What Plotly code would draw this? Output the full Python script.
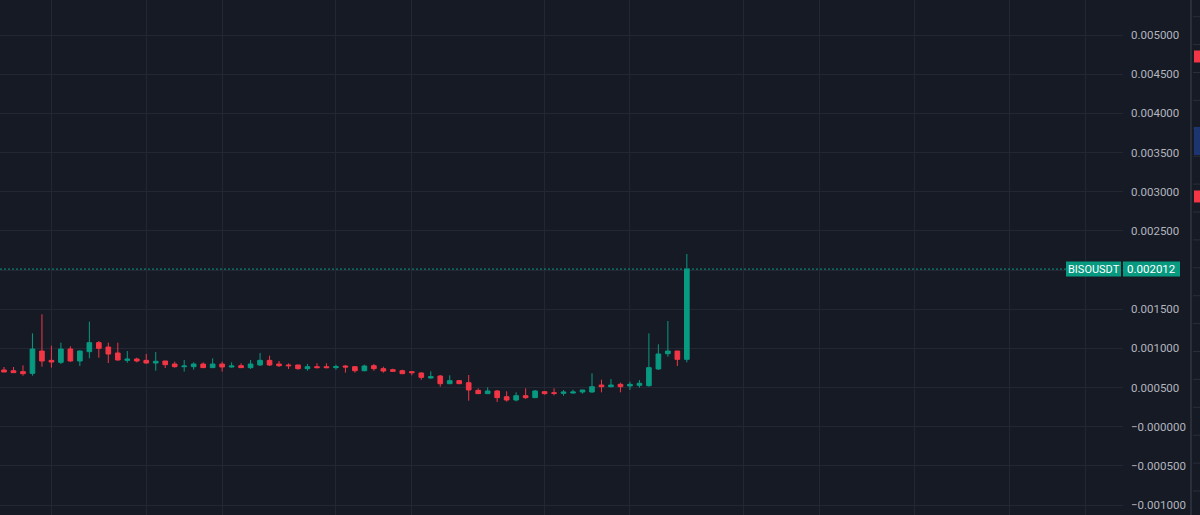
import plotly.graph_objects as go

# ---------------- data ----------------
candle_index = list(range(73))

open_price = [
    0.000724, 0.000715, 0.000703, 0.000681, 0.000966, 0.000847, 0.000822, 0.000992, 0.000839, 0.000958,
    0.001073, 0.001017, 0.000941, 0.000847, 0.000864, 0.000847, 0.000813, 0.000839, 0.000800, 0.000766,
    0.000766, 0.000800, 0.000754, 0.000800, 0.000762, 0.000779, 0.000754, 0.000788, 0.000847, 0.000800,
    0.000788, 0.000788, 0.000741, 0.000766, 0.000766, 0.000754, 0.000775, 0.000766, 0.000715, 0.000779,
    0.000741, 0.000728, 0.000715, 0.000703, 0.000686, 0.000622, 0.000647, 0.000549, 0.000588, 0.000562,
    0.000464, 0.000422, 0.000456, 0.000383, 0.000341, 0.000396, 0.000371, 0.000447, 0.000434, 0.000426,
    0.000430, 0.000443, 0.000443, 0.000532, 0.000511, 0.000541, 0.000520, 0.000528, 0.000524, 0.000737,
    0.000932, 0.000966, 0.000860,
]
high_price = [
    0.000762, 0.000762, 0.000783, 0.001192, 0.001435, 0.001034, 0.001073, 0.001026, 0.000975, 0.001341,
    0.001094, 0.001073, 0.001073, 0.000966, 0.000881, 0.000928, 0.000954, 0.000839, 0.000830, 0.000852,
    0.000822, 0.000822, 0.000873, 0.000830, 0.000822, 0.000809, 0.000852, 0.000941, 0.000907, 0.000839,
    0.000809, 0.000788, 0.000800, 0.000809, 0.000809, 0.000792, 0.000788, 0.000775, 0.000792, 0.000800,
    0.000766, 0.000741, 0.000728, 0.000703, 0.000694, 0.000707, 0.000660, 0.000656, 0.000596, 0.000660,
    0.000490, 0.000503, 0.000469, 0.000452, 0.000439, 0.000490, 0.000469, 0.000456, 0.000490, 0.000469,
    0.000473, 0.000469, 0.000681, 0.000600, 0.000609, 0.000562, 0.000575, 0.000596, 0.001192, 0.001052,
    0.001349, 0.000966, 0.002205,
]
low_price = [
    0.000698, 0.000690, 0.000651, 0.000651, 0.000766, 0.000754, 0.000800, 0.000830, 0.000775, 0.000873,
    0.000881, 0.000813, 0.000843, 0.000817, 0.000822, 0.000805, 0.000715, 0.000749, 0.000754, 0.000703,
    0.000728, 0.000749, 0.000754, 0.000703, 0.000754, 0.000754, 0.000737, 0.000775, 0.000775, 0.000762,
    0.000737, 0.000728, 0.000715, 0.000745, 0.000745, 0.000728, 0.000690, 0.000690, 0.000707, 0.000715,
    0.000690, 0.000698, 0.000673, 0.000656, 0.000600, 0.000613, 0.000511, 0.000549, 0.000549, 0.000332,
    0.000417, 0.000422, 0.000315, 0.000320, 0.000324, 0.000354, 0.000371, 0.000409, 0.000400, 0.000396,
    0.000422, 0.000422, 0.000434, 0.000439, 0.000503, 0.000439, 0.000469, 0.000498, 0.000511, 0.000724,
    0.000894, 0.000775, 0.000822,
]
close_price = [
    0.000698, 0.000690, 0.000677, 0.000992, 0.000839, 0.000826, 0.000992, 0.000839, 0.000966, 0.001073,
    0.001000, 0.000928, 0.000852, 0.000864, 0.000839, 0.000813, 0.000835, 0.000792, 0.000766, 0.000775,
    0.000800, 0.000754, 0.000800, 0.000762, 0.000775, 0.000754, 0.000800, 0.000847, 0.000788, 0.000779,
    0.000779, 0.000741, 0.000766, 0.000754, 0.000754, 0.000766, 0.000762, 0.000715, 0.000775, 0.000741,
    0.000711, 0.000707, 0.000677, 0.000690, 0.000630, 0.000639, 0.000549, 0.000588, 0.000549, 0.000469,
    0.000422, 0.000456, 0.000371, 0.000341, 0.000396, 0.000371, 0.000456, 0.000422, 0.000426, 0.000443,
    0.000443, 0.000469, 0.000511, 0.000511, 0.000532, 0.000511, 0.000541, 0.000554, 0.000754, 0.000928,
    0.000966, 0.000860, 0.002012,
]

symbol = "BISOUSDT"
last_price_text = "0.002012"

price_ticks = [-0.001, -0.0005, 0.0, 0.0005, 0.001, 0.0015, 0.002, 0.0025, 0.003, 0.0035, 0.004, 0.0045, 0.005]
# the 0.002000 label is hidden behind the last-price label in the reference
price_tick_labels = ["\u22120.001000", "\u22120.000500", "\u22120.000000", "0.000500", "0.001000", "0.001500",
                     "", "0.002500", "0.003000", "0.003500", "0.004000", "0.004500", "0.005000"]

# time-grid positions (in candle index units)
time_grid = [5, 15, 23, 35, 43, 57, 66, 78, 86, 96, 106, 114]

# off-screen price labels peeking at the right edge
edge_marker_prices = [0.004726, 0.003647, 0.002939]
edge_marker_colors = ["#f23645", "#1c3571", "#f23645"]
edge_marker_heights = [12, 28, 12]

# ---------------- styling ----------------
BG = "#161a25"
GRID = "#232733"
UP = "#089981"
DOWN = "#f23645"
TXT = "#b2b5be"
W, H = 1200, 515
PLOT_W = 1123


def px(x):
    return x / PLOT_W


fig = go.Figure()
fig.add_trace(go.Candlestick(
    x=candle_index, open=open_price, high=high_price, low=low_price, close=close_price,
    increasing=dict(line=dict(color=UP, width=1), fillcolor=UP),
    decreasing=dict(line=dict(color=DOWN, width=1), fillcolor=DOWN),
    whiskerwidth=0, hoverinfo="skip", showlegend=False,
))

shapes = []
# last price dotted line
shapes.append(dict(type="line", xref="paper", yref="y", x0=0, x1=px(1066),
                   y0=close_price[-1], y1=close_price[-1],
                   line=dict(color=UP, width=1, dash="2px,2px"), layer="above"))
# label boxes
shapes.append(dict(type="rect", xref="paper", yref="y", ysizemode="pixel", yanchor=close_price[-1],
                   x0=px(1066), x1=px(1121), y0=-7.5, y1=7.5, fillcolor=UP, line=dict(width=0), layer="above"))
shapes.append(dict(type="rect", xref="paper", yref="y", ysizemode="pixel", yanchor=close_price[-1],
                   x0=px(1123), x1=px(1180), y0=-7.5, y1=7.5, fillcolor=UP, line=dict(width=0), layer="above"))
# separator of the second price scale
shapes.append(dict(type="line", xref="paper", yref="paper", x0=px(1191), x1=px(1191), y0=0, y1=1,
                   line=dict(color="#2a2e39", width=2), layer="above"))
# faint ticks of second scale
k = 0
while 16.7 + k * 27.9 < H:
    yy = 1 - (16.7 + k * 27.9) / H
    shapes.append(dict(type="line", xref="paper", yref="paper", x0=px(1193), x1=px(1200), y0=yy, y1=yy,
                       line=dict(color="#2a2e39", width=1), layer="above"))
    k += 1
# edge markers
for p, c, h in zip(edge_marker_prices, edge_marker_colors, edge_marker_heights):
    shapes.append(dict(type="rect", xref="paper", yref="y", ysizemode="pixel", yanchor=p,
                       x0=px(1194), x1=px(1201), y0=-h / 2, y1=h / 2, fillcolor=c, line=dict(width=0),
                       layer="above"))

annotations = [
    dict(xref="paper", yref="y", x=px(1093.5), y=close_price[-1], text=symbol, showarrow=False,
         font=dict(family="Roboto, sans-serif", size=11, color="#ffffff"), xanchor="center", yanchor="middle"),
    dict(xref="paper", yref="y", x=px(1151.5), y=close_price[-1], text=last_price_text, showarrow=False,
         font=dict(family="Roboto, sans-serif", size=11.5, color="#ffffff"), xanchor="center", yanchor="middle"),
]

fig.update_layout(
    width=W, height=H,
    margin=dict(l=0, r=W - PLOT_W, t=0, b=0),
    paper_bgcolor=BG, plot_bgcolor=BG,
    showlegend=False, hovermode=False,
    shapes=shapes, annotations=annotations,
    xaxis=dict(range=[-0.422, 117.99], rangeslider=dict(visible=False), showticklabels=False,
               tickvals=time_grid, showgrid=True, gridcolor=GRID, gridwidth=1, zeroline=False,
               showline=False, ticks=""),
    yaxis=dict(range=[-0.001127, 0.005447], side="right", tickvals=price_ticks, ticktext=price_tick_labels,
               showgrid=True, gridcolor=GRID, gridwidth=1, zeroline=False, showline=False, ticks="",
               ticklabelstandoff=7,
               tickfont=dict(family="Roboto, sans-serif", size=11.5, color=TXT)),
)

fig.write_html("out.html", config=dict(displayModeBar=False))

# remove the default page margin so the figure fills the window
with open("out.html", "r", encoding="utf-8") as f:
    html = f.read()
html = html.replace("<head>", "<head><style>html,body{margin:0;padding:0;background:%s;overflow:hidden;}</style>" % BG, 1)
with open("out.html", "w", encoding="utf-8") as f:
    f.write(html)
